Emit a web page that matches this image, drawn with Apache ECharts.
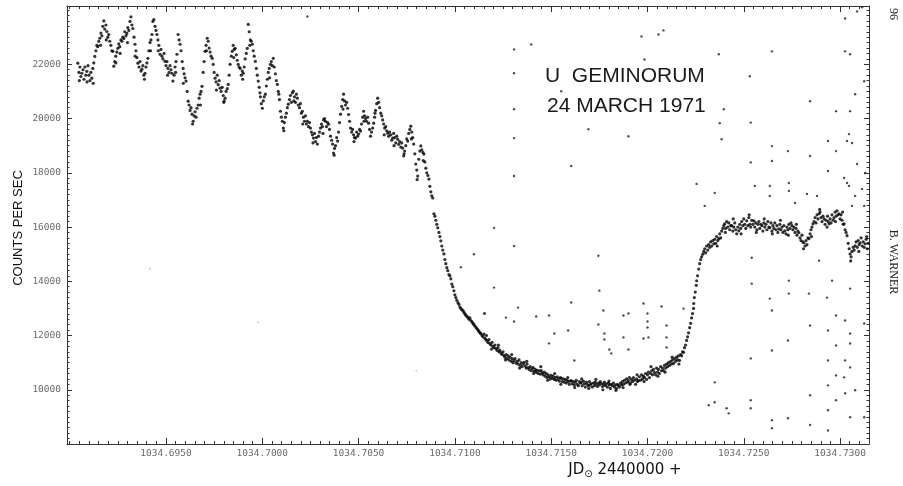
<!DOCTYPE html>
<html>
<head>
<meta charset="utf-8">
<script src="https://cdn.jsdelivr.net/npm/echarts@6/dist/echarts.min.js"></script>
<style>html,body{margin:0;padding:0;background:#fff}#c{width:903px;height:486px}</style>
</head>
<body>
<div id="c"></div>
<script>
// JD offsets in units of 1e-4 day from JD0, counts per second
const JD0 = 1034.69;
const xTickLabels = [1034.6950, 1034.7000, 1034.7050, 1034.7100, 1034.7150, 1034.7200, 1034.7250, 1034.7300];
const yTickLabels = [10000, 12000, 14000, 16000, 18000, 20000, 22000];

const preEclipse = [
[4.2,22040],[4.8,21700],[5.3,21900],[5.8,21550],[6.3,21670],[6.9,21800],[7.4,21450],[7.9,21900],[8.4,21600],[8.9,21740],[9.5,21950],[10.0,21600],[10.5,21400],[11.0,21700],[11.5,21490],[12.0,21850],[12.5,22050],[13.0,22290],[13.6,22500],[14.1,22700],[14.6,22650],[15.1,22850],[15.6,22960],[16.2,23150],[16.7,23050],[17.2,23400],[17.7,23600],[18.2,23300],[18.8,23450],[19.3,23210],[19.8,23000],[20.3,23100],[20.8,22850],[21.4,22700],[21.9,22500],[22.4,22480],[22.9,21930],[23.4,22100],[23.9,22300],[24.5,22450],[25.0,22590],[25.5,22750],[26.0,22650],[26.6,22900],[27.1,22850],[27.6,23000],[28.1,22950],[28.6,23200],[29.2,23050],[29.7,23140],[30.2,23350],[30.7,23250],[31.3,23580],[31.8,23750],[32.3,23450],[32.8,23320],[33.4,23000],[33.9,22740],[34.4,22500],[34.9,22250],[35.4,22040],[36.0,21900],[36.5,22100],[37.0,21750],[37.5,21820],[38.0,21950],[38.5,21600],[39.1,21670],[39.6,21900],[40.1,22050],[40.6,22220],[41.1,22500],[41.7,22800],[42.2,22900],[42.7,23100],[43.2,23580],[43.7,23650],[44.3,23400],[44.8,23250],[45.3,23100],[45.8,22900],[46.3,22700],[46.9,22370],[47.4,22550],[47.9,22300],[48.4,22200],[49.0,22400],[49.5,22110],[50.0,21950],[50.5,22100],[51.0,21850],[51.6,21700],[52.1,21950],[52.6,21800],[53.1,21670],[53.6,21380],[54.2,21600],[54.7,21900],[55.2,22100],[55.7,22370],[56.3,23100],[56.8,22900],[57.3,22740],[57.8,22500],[58.4,22100],[58.9,21850],[59.4,21650],[59.9,21500],[60.4,21380],[61.0,21000],[61.5,20640],[62.0,20500],[62.5,20300],[63.0,20400],[63.5,20160],[64.1,19900],[64.6,20100],[65.1,20250],[65.6,20050],[66.1,20380],[66.7,20500],[67.2,20750],[67.7,20900],[68.2,21000],[68.7,21190],[69.3,21700],[69.8,22100],[70.3,22480],[70.8,22700],[71.4,22960],[71.9,22850],[72.4,22600],[72.9,22450],[73.4,22300],[74.0,22220],[74.5,22000],[75.0,21700],[75.5,21490],[76.0,21350],[76.6,21600],[77.1,21250],[77.6,21400],[78.1,21120],[78.6,21000],[79.2,21150],[79.7,20850],[80.2,20650],[80.7,20750],[81.2,21000],[81.8,21100],[82.3,21260],[82.8,21600],[83.3,22000],[83.9,22300],[84.4,22480],[84.9,22700],[85.4,22550],[85.9,22590],[86.5,22350],[87.0,22150],[87.5,22000],[88.0,21900],[88.5,21850],[89.1,21600],[89.6,21750],[90.1,21670],[90.6,21900],[91.1,22200],[91.7,22400],[92.2,22590],[92.7,23470],[93.2,23200],[93.8,22900],[94.3,22850],[94.8,22740],[95.3,22500],[95.8,22300],[96.4,22110],[96.9,21850],[97.4,21600],[97.9,21380],[98.4,21150],[99.0,20800],[99.5,20550],[100.0,20380],[100.5,20650],[101.0,20800],[101.6,20900],[102.1,21200],[102.6,21450],[103.1,21700],[103.6,21850],[104.2,22000],[104.7,22100],[105.2,21950],[105.7,22220],[106.2,21900],[106.8,21650],[107.3,21400],[107.8,21260],[108.3,21000],[108.9,20700],[109.4,20270],[109.9,20050],[110.4,19900],[110.9,19650],[111.5,19850],[112.0,20050],[112.5,20200],[113.0,20400],[113.5,20530],[114.1,20700],[114.6,20850],[115.1,20600],[115.6,20950],[116.1,21010],[116.7,20800],[117.2,20600],[117.7,20900],[118.2,20750],[118.7,20500],[119.3,20400],[119.8,20550],[120.3,20200],[120.8,20270],[121.3,20050],[121.9,19900],[122.4,20100],[122.9,19800],[123.4,19900],[124.0,19700],[124.5,19850],[125.0,19650],[125.5,19500],[126.0,19400],[126.6,19280],[127.1,19450],[127.6,19150],[128.1,19300],[128.6,19060],[129.2,19350],[129.7,19500],[130.2,19650],[130.7,19800],[131.2,19700],[131.8,19950],[132.3,20000],[132.8,19900],[133.3,19700],[133.9,19850],[134.4,19790],[134.9,19600],[135.4,19350],[136.0,19200],[136.5,19060],[137.0,18730],[137.5,18900],[138.0,19000],[138.6,19300],[139.1,19170],[139.6,19500],[140.1,19850],[140.6,20160],[141.2,20450],[141.7,20700],[142.2,20900],[142.7,20650],[143.2,20500],[143.8,20600],[144.3,20380],[144.8,20150],[145.3,19900],[145.8,19650],[146.4,19500],[146.9,19600],[147.4,19400],[147.9,19300],[148.4,19280],[149.0,19500],[149.5,19350],[150.0,19430],[150.5,19600],[151.0,19540],[151.5,19800],[152.1,20050],[152.6,20270],[153.1,20100],[153.6,20000],[154.1,19900],[154.7,20050],[155.2,19830],[155.7,19600],[156.2,19350],[156.7,19500],[157.3,19650],[157.8,19830],[158.3,20050],[158.8,20300],[159.4,20550],[159.9,20750],[160.4,20600],[160.9,20400],[161.5,20200],[162.0,20100],[162.5,19950],[163.0,19800],[163.5,19650],[164.1,19700],[164.6,19550],[165.1,19460],[165.6,19350],[166.1,19500],[166.7,19400],[167.2,19200],[167.7,19280],[168.2,19450],[168.7,19300],[169.3,19100],[169.8,19350],[170.3,19240],[170.8,19050],[171.3,19150],[171.9,18950],[172.4,19100],[172.9,18910],[173.4,18620],[173.9,18800],[174.5,19000],[175.0,19250],[175.5,19170],[176.0,19450],[176.6,19600],[177.1,19720],[177.6,19500],[178.1,19300],[178.6,19060],[179.2,18700],[179.7,18320],[180.2,18100],[180.7,17880],[181.2,18500],[181.8,18800],[182.3,18990],[182.8,18850],[183.4,18750],[183.9,18690],[184.4,18400],[184.9,18170],[185.4,18000],[186.0,17900],[186.5,17770]
];

// extra points lying off the mean line in the oscillating part
const preScatter = [
[5.0,21400],[9.0,21350],[12.2,21300],[16.0,22700],[19.0,22900],[24.0,22050],[26.2,22400],[30.0,22800],[34.0,22300],[38.8,21450],[42.0,22500],[46.0,22500],[50.8,21600],[55.0,21700],[59.0,21300],[63.8,19800],[67.9,20500],[71.0,22500],[76.2,21050],[80.0,20600],[85.2,22250],[89.8,21450],[93.5,22700],[98.8,20950],[103.8,21500],[108.6,20900],[111.2,19550],[116.4,20650],[121.0,19800],[126.3,19100],[131.5,19450],[137.3,18650],[141.9,20350],[147.6,19150],[152.8,19900],[158.5,20200],[163.3,19400],[168.4,19000],[173.6,18700],[177.4,19250],[180.4,17750],[183.6,18450]
];

const ingress = [
[187.0,17500],[187.5,17300],[188.0,17150],[188.5,17070],[189.1,16490],[189.6,16400],[190.1,16250],[190.6,16100],[191.1,15970],[191.7,15800],[192.2,15650],[192.7,15490],[193.2,15300],[193.7,15150],[194.3,15010],[194.8,14800],[195.3,14650],[195.8,14500],[196.3,14390],[196.9,14250],[197.4,14200],[197.9,14090],[198.4,13900],[198.9,13800],[199.5,13650],[200.0,13500],[200.5,13400],[201.0,13300],[201.6,13210],[202.1,13150],[202.6,13050],[203.1,13000],[203.6,12950],[204.2,12920],[204.7,12850],[205.2,12800],[205.7,12750],[206.3,12700],[206.8,12660],[207.3,12600],[207.8,12650],[208.3,12550],[208.9,12500],[209.4,12450],[209.9,12400],[210.4,12350],[211.0,12300],[211.5,12250],[212.0,12200],[212.5,12150],[213.0,12100],[213.5,12070]
];

const eclipseFloor = [
[214.1,12000],[214.6,11950],[215.1,12050],[215.6,11900],[216.1,11850],[216.7,11800],[217.2,11740],[217.7,11850],[218.2,11700],[218.7,11650],[219.3,11750],[219.8,11600],[220.3,11550],[220.8,11650],[221.3,11520],[221.9,11450],[222.4,11550],[222.9,11400],[223.4,11450],[224.0,11350],[224.5,11300],[225.0,11400],[225.5,11260],[226.0,11200],[226.6,11300],[227.1,11150],[227.6,11250],[228.1,11100],[228.6,11200],[229.2,11050],[229.7,11150],[230.2,11000],[230.7,11080],[231.2,11150],[231.8,10980],[232.3,11050],[232.8,10950],[233.3,11100],[233.9,10900],[234.4,11000],[234.9,10850],[235.4,10950],[235.9,11010],[236.5,10880],[237.0,10800],[237.5,10950],[238.0,10820],[238.5,10750],[239.1,10850],[239.6,10700],[240.1,10780],[240.6,10820],[241.1,10680],[241.7,10750],[242.2,10650],[242.7,10720],[243.2,10600],[243.8,10700],[244.3,10580],[244.8,10710],[245.3,10620],[245.8,10550],[246.4,10650],[246.9,10500],[247.4,10600],[247.9,10450],[248.4,10550],[249.0,10480],[249.5,10400],[250.0,10530],[250.5,10420],[251.0,10500],[251.6,10380],[252.1,10450],[252.6,10350],[253.1,10480],[253.7,10400],[254.2,10320],[254.7,10450],[255.2,10420],[255.7,10300],[256.2,10400],[256.8,10280],[257.3,10380],[257.8,10250],[258.3,10350],[258.8,10300],[259.4,10200],[259.9,10320],[260.4,10340],[260.9,10220],[261.4,10300],[262.0,10180],[262.5,10280],[263.0,10350],[263.5,10200],[264.1,10150],[264.6,10300],[265.1,10250],[265.6,10270],[266.1,10150],[266.7,10320],[267.2,10220],[267.7,10100],[268.2,10280],[268.7,10200],[269.3,10150],[269.8,10300],[270.3,10180],[270.8,10230],[271.3,10100],[271.9,10250],[272.4,10150],[272.9,10280],[273.4,10200],[274.0,10120],[274.5,10250],[275.0,10180],[275.5,10300],[276.0,10230],[276.6,10120],[277.1,10200],[277.6,10280],[278.1,10150],[278.6,10220],[279.2,10100],[279.7,10250],[280.2,10180],[280.7,10050],[281.2,10200],[281.8,10150],[282.3,10250],[282.8,10100],[283.3,10180],[283.9,10050],[284.4,10200],[284.9,10160],[285.4,10100],[286.0,10250],[286.5,10180],[287.0,10300],[287.5,10200],[288.0,10350],[288.6,10250],[289.1,10400],[289.6,10280],[290.1,10340],[290.6,10450],[291.1,10250],[291.7,10380],[292.2,10300],[292.7,10450],[293.2,10350],[293.8,10200],[294.3,10400],[294.8,10300],[295.3,10340],[295.8,10480],[296.4,10350],[296.9,10550],[297.4,10400],[297.9,10500],[298.4,10450],[299.0,10600],[299.5,10380],[300.0,10550],[300.5,10650],[301.0,10450],[301.6,10600],[302.1,10700],[302.6,10550],[303.1,10750],[303.6,10640],[304.2,10550],[304.7,10800],[305.2,10650],[305.7,10750],[306.2,10600],[306.8,10850],[307.3,10700],[307.8,10800],[308.3,10710],[308.8,10900],[309.4,10800],[309.9,10950],[310.4,10850],[310.9,11000],[311.5,10900],[312.0,11050],[312.5,10950],[313.0,11100],[313.5,10970],[314.1,11150],[314.6,11050],[315.1,11200],[315.6,11100],[316.1,11250],[316.6,11080]
];

// extra points lying off the mean line during the eclipse minimum
const floorScatter = [
[216.4,12000],[219.0,11500],[222.6,11650],[226.3,11100],[229.5,11300],[233.6,10800],[237.3,11050],[240.9,10600],[244.6,10850],[248.2,10350],[251.8,10600],[255.0,10200],[258.6,10450],[262.2,10080],[265.8,10400],[269.5,10050],[273.2,10380],[276.8,10000],[280.0,10320],[283.6,9980],[287.3,10080],[290.9,10200],[294.6,10550],[298.2,10300],[301.8,10850],[305.4,10500],[309.1,10650],[312.8,11200],[316.3,10950]
];

const egress = [
[317.2,11300],[317.7,11250],[318.2,11400],[318.7,11380],[319.2,11550],[319.8,11650],[320.3,11820],[320.8,11950],[321.3,12100],[321.9,12290],[322.4,12450],[322.9,12650],[323.4,12810],[323.9,13000],[324.0,13180],[324.3,13400],[324.8,13600],[325.3,13850],[325.5,14020],[326.0,14200],[326.6,14450],[327.1,14650],[327.6,14800],[328.1,14900],[328.7,15000],[329.2,15100],[329.7,15200],[330.2,15050],[330.7,15300],[331.3,15150],[331.8,15350],[332.3,15250],[332.8,15450],[333.3,15300],[333.9,15500],[334.4,15380]
];

const postEclipse = [
[334.9,15550],[335.4,15400],[335.9,15650],[336.5,15500],[337.0,15570],[337.5,15750],[338.0,15600],[338.5,15850],[339.1,15950],[339.6,16050],[340.1,16120],[340.6,15950],[341.1,16200],[341.7,16000],[342.2,16150],[342.7,15900],[343.2,16050],[343.7,16050],[344.3,15850],[344.8,16000],[345.3,16150],[345.8,15900],[346.3,15750],[346.9,16000],[347.4,15860],[347.9,16100],[348.4,15950],[348.9,16200],[349.5,16050],[350.0,16300],[350.5,16100],[351.0,15950],[351.5,16230],[352.1,16050],[352.6,16350],[353.1,16100],[353.6,16000],[354.1,16250],[354.7,16100],[355.2,16230],[355.7,16000],[356.2,16150],[356.8,15900],[357.3,16100],[357.8,16200],[358.3,15950],[358.8,16100],[359.4,16050],[359.9,15850],[360.4,16150],[360.9,16000],[361.5,16100],[362.0,15900],[362.5,16200],[363.0,16000],[363.5,15970],[364.1,16150],[364.6,15850],[365.1,16050],[365.6,15950],[366.1,16150],[366.7,15900],[367.2,16050],[367.7,15800],[368.2,15930],[368.7,16100],[369.3,15900],[369.8,16000],[370.3,15800],[370.8,16050],[371.3,15860],[371.9,15750],[372.4,16000],[372.9,15900],[373.4,16100],[374.0,15950],[374.5,16150],[375.0,16050],[375.5,15900],[376.0,16000],[376.6,15800],[377.1,15950],[377.6,15700],[378.1,15850],[378.6,15790],[379.2,15600],[379.7,15500],[380.2,15700],[380.7,15450],[381.2,15420],[381.8,15300],[382.3,15500],[382.8,15350],[383.3,15600],[383.8,15570],[384.4,15750],[384.9,15900],[385.4,16000],[385.9,16120],[386.5,16200],[387.0,16350],[387.5,16150],[388.0,16450],[388.5,16300],[389.1,16490],[389.6,16550],[390.1,16350],[390.6,16200],[391.1,16400],[391.7,16300],[392.2,16100],[392.7,16250],[393.2,16000],[393.8,16200],[394.3,16120],[394.8,16300],[395.3,16150],[395.8,16450],[396.4,16250],[396.8,16340],[397.4,16550],[397.9,16400],[398.4,16600],[398.9,16450],[399.5,16490],[400.0,16300],[400.5,16450],[401.0,16250],[401.6,16100],[402.1,16120],[402.6,15900],[403.1,15800],[403.6,15680],[404.2,15400],[404.7,15200],[405.2,15010],[405.7,14900],[406.2,15100],[406.8,15250],[407.3,15150],[407.8,15310],[408.3,15450],[408.9,15250],[409.4,15500],[409.9,15350],[410.4,15420],[410.9,15600],[411.5,15300],[412.0,15450],[412.5,15250],[413.0,15380],[413.5,15550],[414.1,15200],[414.6,15400],[415.1,15250],[415.6,15310]
];

// extra points lying off the mean line after egress
const postScatter = [
[336.2,15300],[340.4,15800],[344.5,16300],[348.6,15750],[352.8,16450],[356.5,15800],[360.6,16300],[364.8,15750],[369.0,16250],[373.1,15700],[377.3,16100],[381.0,15200],[385.1,15650],[389.4,16650],[393.5,16400],[397.6,16200],[401.3,16550],[405.5,14750],[409.7,15100],[413.8,15650]
];

const strayPoints = [
[239.6,22735],[230.7,22550],[296.9,23030],[305.7,23100],[308.3,23250],[298.4,22180],[337.0,22370],[353.1,21560],[230.7,21670],[255.2,21010],[230.7,20345],[339.6,20345],[337.5,19830],[269.3,19610],[290.1,19350],[230.7,19280],[338.5,19240],[123.4,23765],[230.7,17880],[230.7,15300],[260.4,18250],
[232.8,13030],[215.6,12810],[226.5,12660],[230.7,12516],[242.2,12700],[248.9,12740],[260.4,13220],[297.9,13180],[307.3,13070],[318.7,12990],[287.5,12740],[290.1,12810],[300.0,12810],[300.0,12516],[300.0,12295],[309.9,12370],[251.6,12075],[258.8,12185],[274.5,12405],[277.6,12075],[277.6,11855],[287.5,11930],[297.9,11890],[300.5,11930],[309.9,11930],[248.9,11710],[280.2,11487],[281.2,11340],[290.1,11487],[309.9,11560],[262.0,11080],[274.5,14942],[275.0,13655],[277.1,12920],
[220.3,15970],[209.9,14998],[203.1,14520],[220.3,13766],[215.1,12810],
[334.9,10274],[334.9,9540],[331.8,9430],[341.1,9318],[342.2,9130],
[325.5,17590],[334.9,17258],[329.7,16780],[355.7,17515],[363.5,17515],[363.5,17148],[373.4,17626],[373.4,17332],[382.8,17221],[388.0,17148],[403.6,17626],[407.8,17148],[376.6,16890],[406.2,16780],[412.5,16780],
[354.1,14870],[389.1,14760],[354.1,13913],[373.4,14023],[395.8,14023],[405.2,13730],[373.4,13545],[383.8,13545],[393.2,13398],[363.5,13361],
[411.4,24100],[408.8,23950],[402.6,23690],[402.6,22478],[405.2,22370],[412.5,21375],[407.8,20897],[405.2,20272],[404.6,19427],[403.6,19170],[406.2,19096],[408.8,18324],[413.0,17993],[402.1,17810],[404.6,17516],[411.4,17406],
[402.6,12553],[405.2,12075],[412.5,12443],[402.6,11082],[405.2,10825],[402.6,9870],[405.2,8987],[412.5,8987],[407.8,9980],[405.2,11707],[402.1,10457],
[353.6,19850],[353.6,18383],[353.6,11156],[353.6,9612],[353.6,9318],
[364.6,22478],[364.6,18985],[364.6,18434],[364.6,12920],[364.6,11450],[364.6,8877],[364.6,8580],
[372.9,18800],[372.9,11818],[372.9,8950],
[384.4,20640],[384.4,18618],[384.4,12370],[384.4,9796],[384.4,8700],
[393.7,19170],[393.7,18067],[393.7,12185],[393.7,11082],[393.7,10163],[393.7,9245],[393.7,8500],
[397.9,20272],[397.9,18800],[397.9,12736],[397.9,11634],[397.9,10530],[397.9,9612]
];

const faintPoints = [[41.7,14464],[97.9,12480],[180.0,10700]];

const toJD = p => [JD0 + p[0] / 10000, p[1]];
const curve = [].concat(preEclipse, preScatter, ingress, eclipseFloor, floorScatter, egress, postEclipse, postScatter).map(toJD);

const xMin = 1034.68986, xMax = 1034.7315;
const yMin = 8000, yMax = 24150;
const xMinor = []; for (let k = 0; k <= 84; k++) { const v = +(1034.69 + k * 0.0005).toFixed(4); if (v > xMin && v < xMax) xMinor.push(v); }
const yMinor = []; for (let v = 8200; v <= 24000; v += 200) yMinor.push(v);

const tickFont = {color:'#6a6a6a', fontFamily:'DejaVu Sans Mono', fontSize:9.5};
function xAx(pos, ticks, len, labels, line) {
  return {type:'value', position:pos, min:xMin, max:xMax, gridIndex:0,
    axisLine:{show:line, onZero:false, lineStyle:{color:'#333', width:1}},
    axisTick:{show:true, inside:true, length:len, customValues:ticks, lineStyle:{color:'#333', width:1}},
    axisLabel: labels ? Object.assign({show:true, customValues:ticks, margin:5, formatter:v=>v.toFixed(4)}, tickFont) : {show:false},
    splitLine:{show:false}};
}
function yAx(pos, ticks, len, labels, line) {
  return {type:'value', position:pos, min:yMin, max:yMax, gridIndex:0,
    axisLine:{show:line, onZero:false, lineStyle:{color:'#333', width:1}},
    axisTick:{show:true, inside:true, length:len, customValues:ticks, lineStyle:{color:'#333', width:1}},
    axisLabel: labels ? Object.assign({show:true, customValues:ticks, margin:6, formatter:v=>String(v)}, tickFont) : {show:false},
    splitLine:{show:false}};
}

const chart = echarts.init(document.getElementById('c'), null, {renderer:'canvas'});
chart.setOption({
  animation:false,
  backgroundColor:'#fff',
  grid:{left:67, right:34, top:6, bottom:42},
  xAxis:[xAx('bottom', xTickLabels, 6, true, true), xAx('bottom', xMinor, 3, false, false),
         xAx('top', xTickLabels, 6, false, true), xAx('top', xMinor, 3, false, false)],
  yAxis:[yAx('left', yTickLabels, 5, true, true), yAx('left', yMinor, 2.5, false, false),
         yAx('right', yTickLabels, 5, false, true), yAx('right', yMinor, 2.5, false, false)],
  series:[
    {type:'scatter', data:curve, symbol:'circle', symbolSize:3.2, itemStyle:{color:'#000'}, silent:true},
    {type:'scatter', data:strayPoints.map(toJD), symbol:'circle', symbolSize:2.4, itemStyle:{color:'#222'}, silent:true},
    {type:'scatter', data:faintPoints.map(toJD), symbol:'circle', symbolSize:2, itemStyle:{color:'#bbb'}, silent:true}
  ],
  graphic:[
    {type:'text', left:545, top:66, style:{text:'U  GEMINORUM', font:'21px "Liberation Sans"', fill:'#1a1a1a'}},
    {type:'text', left:547, top:96, style:{text:'24 MARCH 1971', font:'21px "Liberation Sans"', fill:'#1a1a1a'}},
    {type:'text', x:18, y:228, rotation:Math.PI/2, style:{text:'COUNTS PER SEC', font:'13px "Liberation Sans"', fill:'#111', align:'center', verticalAlign:'middle'}},
    {type:'text', x:625, y:470, style:{text:'JD{s|⊙} 2440000 +', font:'15px "DejaVu Sans"', fill:'#111', align:'center', verticalAlign:'middle', rich:{s:{font:'10px "DejaVu Sans"', fill:'#111', padding:[8,0,0,0]}}}},
    {type:'text', x:893, y:14, rotation:-Math.PI/2, style:{text:'96', font:'12px "Liberation Serif"', fill:'#222', align:'center', verticalAlign:'middle'}},
    {type:'text', x:893, y:262, rotation:-Math.PI/2, style:{text:'B. WARNER', font:'12px "Liberation Serif"', fill:'#222', align:'center', verticalAlign:'middle'}}
  ]
});
</script>
</body>
</html>
